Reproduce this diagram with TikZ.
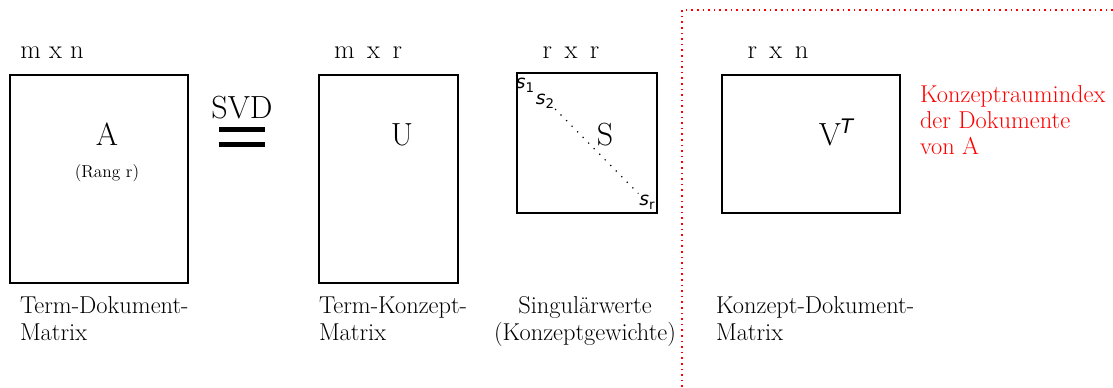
\documentclass[tikz,border=0pt]{standalone}
\usepackage{fontspec}
\newfontfamily\dejavu{DejaVu Sans}

\tikzset{every picture/.style={line width=1.5pt}}
\tikzset{
  lbl/.style={anchor=base, inner sep=0pt, font=\fontsize{18.3}{21}\selectfont},
  dimlbl/.style={anchor=base, inner sep=0pt, font=\fontsize{20}{23}\selectfont},
  biglbl/.style={anchor=base, inner sep=0pt, font=\fontsize{24}{28}\selectfont},
  redlbl/.style={anchor=base west, inner sep=0pt, text=red, font=\fontsize{18.3}{21}\selectfont},
  diaglbl/.style={anchor=base, inner sep=0pt, font=\fontsize{14}{16}\dejavu\itshape},
}
\newcommand{\diagsub}[1]{\raisebox{-3pt}{\fontsize{10}{12}\dejavu\upshape #1}}

\begin{document}
\begin{tikzpicture}[x=0.75pt,y=0.75pt,yscale=-1,xscale=1]
\path[use as bounding box] (0,0) rectangle (1113,387);

%Shape: Rectangle [A]
\draw   (10,75) -- (188,75) -- (188,283) -- (10,283) -- cycle ;
%Shape: Rectangle [U]
\draw   (319,75) -- (458,75) -- (458,283) -- (319,283) -- cycle ;
%Shape: Square [S]
\draw   (517,73) -- (657,73) -- (657,213) -- (517,213) -- cycle ;
%Shape: Rectangle [V^T]
\draw   (722,75) -- (900,75) -- (900,213) -- (722,213) -- cycle ;

%Equals sign under SVD
\draw [line width=3.75pt]  (219,129.5) -- (265,129.5) ;
\draw [line width=3.75pt]  (219,144.5) -- (265,144.5) ;

%Red dotted frame
\draw [color=red, line width=1.2pt, dash pattern=on 1.2pt off 3pt]  (682,387) -- (682,10) -- (1113,10) ;

% Text Node
\draw (52,58) node [dimlbl] (dimA) {m x n};
\draw (368,58) node [dimlbl] (dimU) {m\, x\, r};
\draw (571,58) node [dimlbl] (dimS) {r\, x\, r};
\draw (778,58) node [dimlbl] (dimV) {r\, x\, n};

% Text Node
\draw (107,145) node [biglbl] (matA) {A};
\draw (107,177) node [anchor=base, inner sep=0pt, font=\fontsize{13}{15}\selectfont] (rang) {(Rang r)};
\draw (242,118) node [biglbl] (svd) {SVD};
\draw (402,145) node [biglbl] (matU) {U};
\draw (605,145) node [biglbl] (matS) {S};
\draw (836,145) node [biglbl] (matV) {V\raisebox{9pt}{\fontsize{15}{16}\dejavu\itshape T}};

% Diagonal of S
\draw (525,88) node [diaglbl] (s1) {s\diagsub{1}};
\draw (545,104) node [diaglbl] (s2) {s\diagsub{2}};
\draw (647,205) node [diaglbl] (sr) {s\diagsub{r}};
\draw [line width=0.9pt, dash pattern=on 0.9pt off 5pt]  (s2.south east) -- (sr.north west) ;

% Text Node
\draw (919,102) node [redlbl] (red1) {Konzeptraumindex};
\draw (919,128) node [redlbl] (red2) {der Dokumente};
\draw (919,154) node [redlbl] (red3) {von A};

% Text Node
\draw (19,313) node [lbl, anchor=base west] (capA1) {Term-Dokument-};
\draw (19,340) node [lbl, anchor=base west] (capA2) {Matrix};
\draw (318,313) node [lbl, anchor=base west] (capU1) {Term-Konzept-};
\draw (318,340) node [lbl, anchor=base west] (capU2) {Matrix};
\draw (585,313) node [lbl] (capS1) {Singulärwerte};
\draw (585,340) node [lbl] (capS2) {(Konzeptgewichte)};
\draw (715,313) node [lbl, anchor=base west] (capV1) {Konzept-Dokument-};
\draw (715,340) node [lbl, anchor=base west] (capV2) {Matrix};

\end{tikzpicture}
\end{document}
